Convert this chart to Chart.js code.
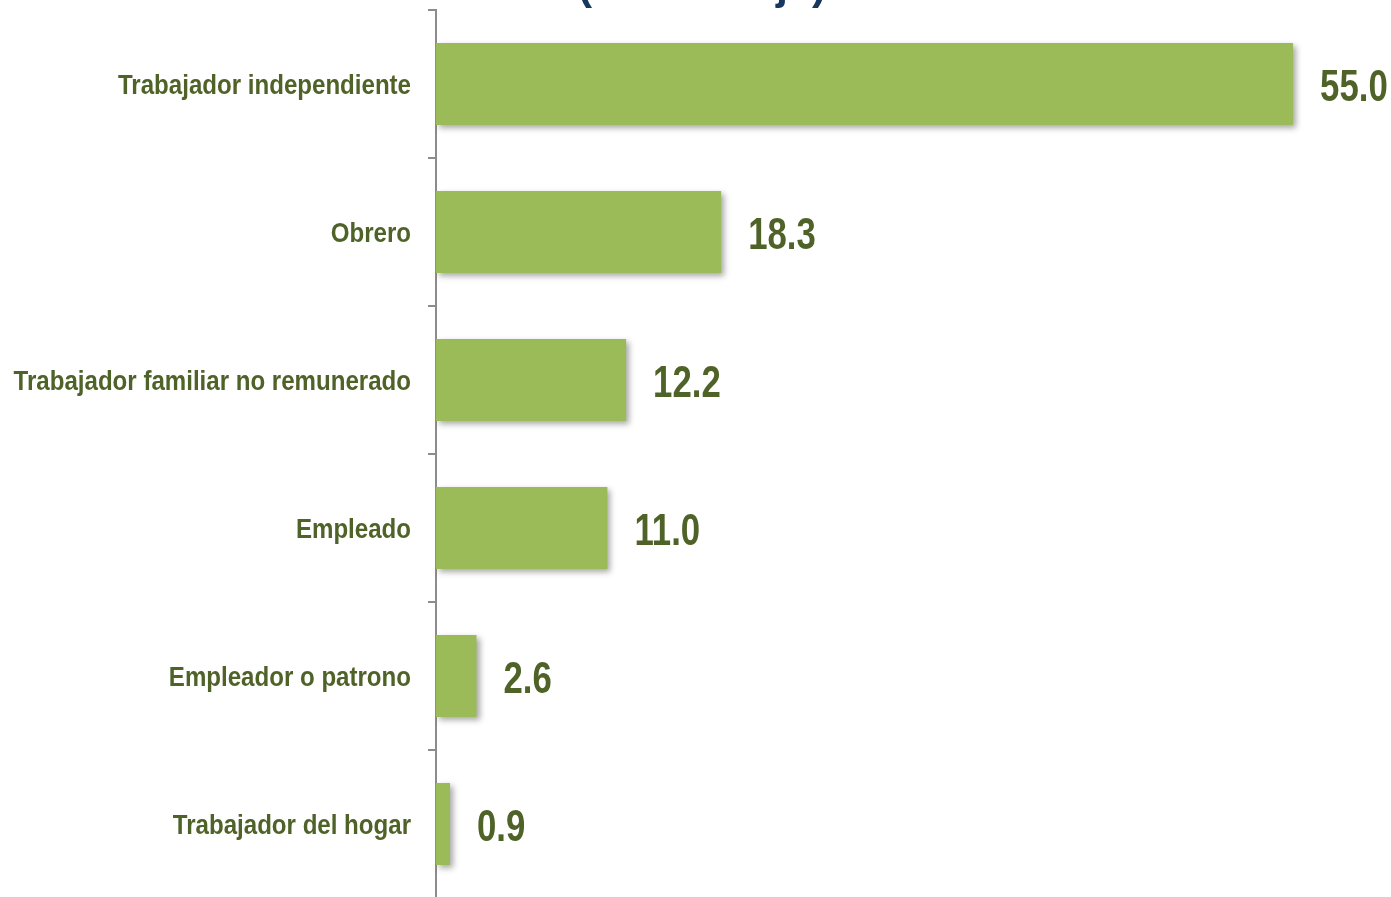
<!DOCTYPE html>
<html>
<head>
<meta charset="utf-8">
<script src="https://cdn.jsdelivr.net/npm/chart.js@4"></script>
<style>
  html, body { margin: 0; padding: 0; background: #ffffff; overflow: hidden; }
  #wrap { position: relative; width: 1391px; height: 900px; }
</style>
</head>
<body>
<div id="wrap"><canvas id="c"></canvas></div>
<script>
const titleText = "(Porcentaje)";
const categories = [
  "Trabajador independiente",
  "Obrero",
  "Trabajador familiar no remunerado",
  "Empleado",
  "Empleador o patrono",
  "Trabajador del hogar"
];
const values = [55.0, 18.3, 12.2, 11.0, 2.6, 0.9];

const labelColor = "#4F6228";
const barColor = "#9BBB59";
const axisColor = "#8C8C8C";
const sans = "'Liberation Sans', Arial, sans-serif";

// draw condensed text (Arial Narrow look) by squeezing horizontally
function narrowText(ctx, text, x, y, size, squeeze, align) {
  ctx.save();
  ctx.font = "bold " + size + "px " + sans;
  ctx.textBaseline = "middle";
  ctx.textAlign = "left";
  const w = ctx.measureText(text).width * squeeze;
  const startX = align === "right" ? x - w : x;
  ctx.translate(startX, y);
  ctx.scale(squeeze, 1);
  ctx.fillText(text, 0, 0);
  ctx.restore();
}

const shadowPlugin = {
  id: "shadow",
  beforeDatasetsDraw(chart) {
    const ctx = chart.ctx;
    ctx.save();
    ctx.shadowColor = "rgba(0,0,0,0.35)";
    ctx.shadowBlur = 6;
    ctx.shadowOffsetX = 3;
    ctx.shadowOffsetY = 3;
  },
  afterDatasetsDraw(chart) {
    chart.ctx.restore();
  }
};

const textPlugin = {
  id: "texts",
  afterDatasetsDraw(chart) {
    const ctx = chart.ctx;
    const meta = chart.getDatasetMeta(0);
    const yScale = chart.scales.y;
    ctx.save();
    ctx.fillStyle = labelColor;
    meta.data.forEach((bar, i) => {
      narrowText(ctx, values[i].toFixed(1), bar.x + 27, bar.y + 5, 44, 0.79, "left");
    });
    categories.forEach((cat, i) => {
      const y = yScale.getPixelForValue(i);
      narrowText(ctx, cat, chart.chartArea.left - 25, y + 2, 28, 0.86, "right");
    });
    ctx.restore();
  }
};

const titlePlugin = {
  id: "cutTitle",
  afterDraw(chart) {
    const ctx = chart.ctx;
    ctx.save();
    ctx.fillStyle = "#17375E";
    ctx.font = "bold 43px " + sans;
    ctx.textAlign = "center";
    ctx.textBaseline = "alphabetic";
    ctx.fillText(titleText, 702, -1);
    ctx.restore();
  }
};

new Chart(document.getElementById("c"), {
  type: "bar",
  data: {
    labels: categories,
    datasets: [{
      data: values,
      backgroundColor: barColor,
      borderWidth: 0,
      barPercentage: 0.555,
      categoryPercentage: 1.0
    }]
  },
  options: {
    indexAxis: "y",
    responsive: true,
    maintainAspectRatio: false,
    animation: false,
    layout: { padding: { top: 10, right: 20, bottom: 2, left: 0 } },
    plugins: {
      legend: { display: false },
      tooltip: { enabled: false },
      title: { display: false }
    },
    scales: {
      x: {
        display: false,
        min: 0,
        max: 60
      },
      y: {
        afterFit(scale) {
          scale.width = 436;
          scale.paddingTop = 0;
          scale.paddingBottom = 0;
        },
        grid: {
          drawOnChartArea: false,
          drawTicks: true,
          tickLength: 8,
          color: axisColor,
          lineWidth: 2,
          offset: true
        },
        border: { display: true, color: axisColor, width: 2 },
        ticks: { display: false }
      }
    }
  },
  plugins: [shadowPlugin, textPlugin, titlePlugin]
});
</script>
</body>
</html>
